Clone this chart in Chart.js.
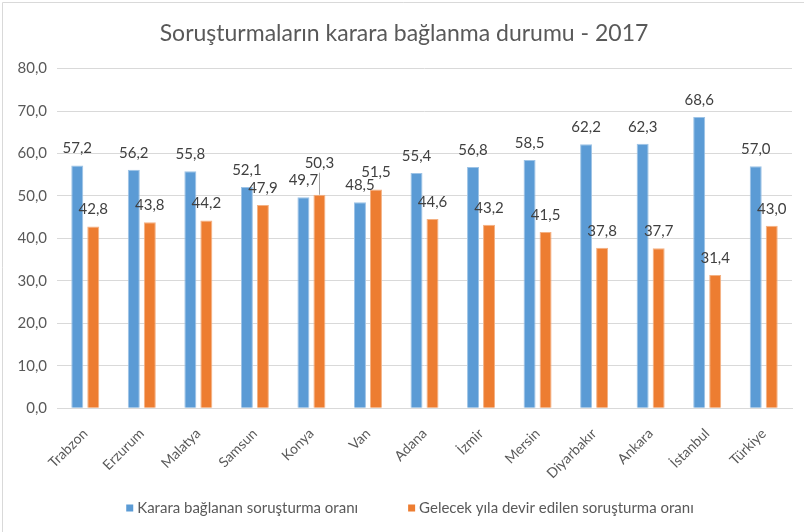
<!DOCTYPE html>
<html>
<head>
<meta charset="utf-8">
<script src="https://cdn.jsdelivr.net/npm/chart.js@4.4.1/dist/chart.umd.min.js"></script>
<style>
  html, body { margin: 0; padding: 0; background: #fff; }
  #wrap { width: 804px; height: 532px; position: relative; }
</style>
</head>
<body>
<div id="wrap"><canvas id="chart" width="804" height="532"></canvas></div>
<script>
// Chart data
const cities = ['Trabzon', 'Erzurum', 'Malatya', 'Samsun', 'Konya', 'Van', 'Adana', 'İzmir', 'Mersin', 'Diyarbakır', 'Ankara', 'İstanbul', 'Türkiye'];
const decidedRates = [57.2, 56.2, 55.8, 52.1, 49.7, 48.5, 55.4, 56.8, 58.5, 62.2, 62.3, 68.6, 57.0];
const carriedRates = [42.8, 43.8, 44.2, 47.9, 50.3, 51.5, 44.6, 43.2, 41.5, 37.8, 37.7, 31.4, 43.0];
const seriesNames = ['Karara bağlanan soruşturma oranı', 'Gelecek yıla devir edilen soruşturma oranı'];
const chartTitle = 'Soruşturmaların karara bağlanma durumu - 2017';

const FONT = 'Lato, "Open Sans", sans-serif';
const TEXT = '#595959';

// Format numbers Turkish style (comma decimal)
const fmt = (v) => v.toFixed(1).replace('.', ',');

// Draws value labels above bars; Konya orange label lifted with a leader line
const valueLabels = {
  id: 'valueLabels',
  afterDatasetsDraw(chart) {
    const ctx = chart.ctx;
    ctx.save();
    ctx.font = '15px ' + FONT;
    ctx.fillStyle = '#404040';
    ctx.textAlign = 'center';
    ctx.textBaseline = 'middle';
    chart.data.datasets.forEach((ds, di) => {
      chart.getDatasetMeta(di).data.forEach((bar, i) => {
        let y = bar.y - 17;
        if (di === 1 && i === 4) {
          // lifted label with leader line
          y = bar.y - 32;
          ctx.strokeStyle = '#a6a6a6';
          ctx.lineWidth = 1;
          ctx.beginPath();
          ctx.moveTo(Math.round(bar.x) + 0.5, y + 10);
          ctx.lineTo(Math.round(bar.x) + 0.5, bar.y);
          ctx.stroke();
        }
        ctx.fillText(fmt(ds.data[i]), bar.x, y);
      });
    });
    ctx.restore();
  }
};

// Bottom legend drawn by hand so the item spacing can match the reference
const bottomLegend = {
  id: 'bottomLegend',
  afterDraw(chart) {
    const ctx = chart.ctx;
    const y = 508, box = 7, textGap = 4, itemGap = 50;
    ctx.save();
    ctx.font = '15px ' + FONT;
    ctx.textBaseline = 'middle';
    ctx.textAlign = 'left';
    const items = chart.data.datasets.map(ds => ({
      text: ds.label,
      color: ds.backgroundColor,
      w: box + textGap + ctx.measureText(ds.label).width
    }));
    const total = items.reduce((s, it) => s + it.w, 0) + itemGap * (items.length - 1);
    let x = 410 - total / 2;
    items.forEach(it => {
      ctx.fillStyle = it.color;
      ctx.fillRect(x, y - box / 2, box, box);
      ctx.fillStyle = TEXT;
      ctx.fillText(it.text, x + box + textGap, y);
      x += it.w + itemGap;
    });
    ctx.restore();
  }
};

// Thin outer frame (left and top edges visible in the reference)
const frame = {
  id: 'frame',
  beforeDraw(chart) {
    const ctx = chart.ctx;
    ctx.save();
    ctx.strokeStyle = '#d9d9d9';
    ctx.lineWidth = 1;
    ctx.beginPath();
    ctx.moveTo(2.5, 532);
    ctx.lineTo(2.5, 2.5);
    ctx.lineTo(804, 2.5);
    ctx.stroke();
    ctx.restore();
  }
};

const ctx = document.getElementById('chart').getContext('2d');
new Chart(ctx, {
  type: 'bar',
  data: {
    labels: cities,
    datasets: [
      {
        label: seriesNames[0],
        data: decidedRates,
        backgroundColor: '#5b9bd5',
        borderColor: '#9dc3e6',
        borderWidth: { left: 1, right: 1, top: 1, bottom: 0 },
        categoryPercentage: 0.566,
        barPercentage: 0.75
      },
      {
        label: seriesNames[1],
        data: carriedRates,
        backgroundColor: '#ed7d31',
        borderColor: '#f4b183',
        borderWidth: { left: 1, right: 1, top: 1, bottom: 0 },
        categoryPercentage: 0.566,
        barPercentage: 0.75
      }
    ]
  },
  options: {
    responsive: false,
    animation: false,
    layout: { padding: { left: 16, right: 12, top: 12, bottom: 33 } },
    scales: {
      x: {
        grid: { display: false, drawTicks: false },
        border: { color: '#d9d9d9', width: 1 },
        ticks: {
          color: TEXT,
          font: { family: FONT, size: 14 },
          minRotation: 45,
          maxRotation: 45,
          padding: 17
        }
      },
      y: {
        min: 0,
        max: 80,
        afterFit: (scale) => { scale.width = 41; },
        grid: { color: '#d9d9d9', drawTicks: false },
        border: { display: false },
        ticks: {
          stepSize: 10,
          color: TEXT,
          padding: 10,
          font: { family: FONT, size: 15 },
          callback: (v) => fmt(v)
        }
      }
    },
    plugins: {
      title: {
        display: true,
        text: chartTitle,
        color: TEXT,
        font: { family: FONT, size: 23, weight: 'normal' },
        padding: { top: 8, bottom: 21 }
      },
      legend: { display: false },
      tooltip: { enabled: false }
    }
  },
  plugins: [valueLabels, bottomLegend, frame]
});
</script>
</body>
</html>
